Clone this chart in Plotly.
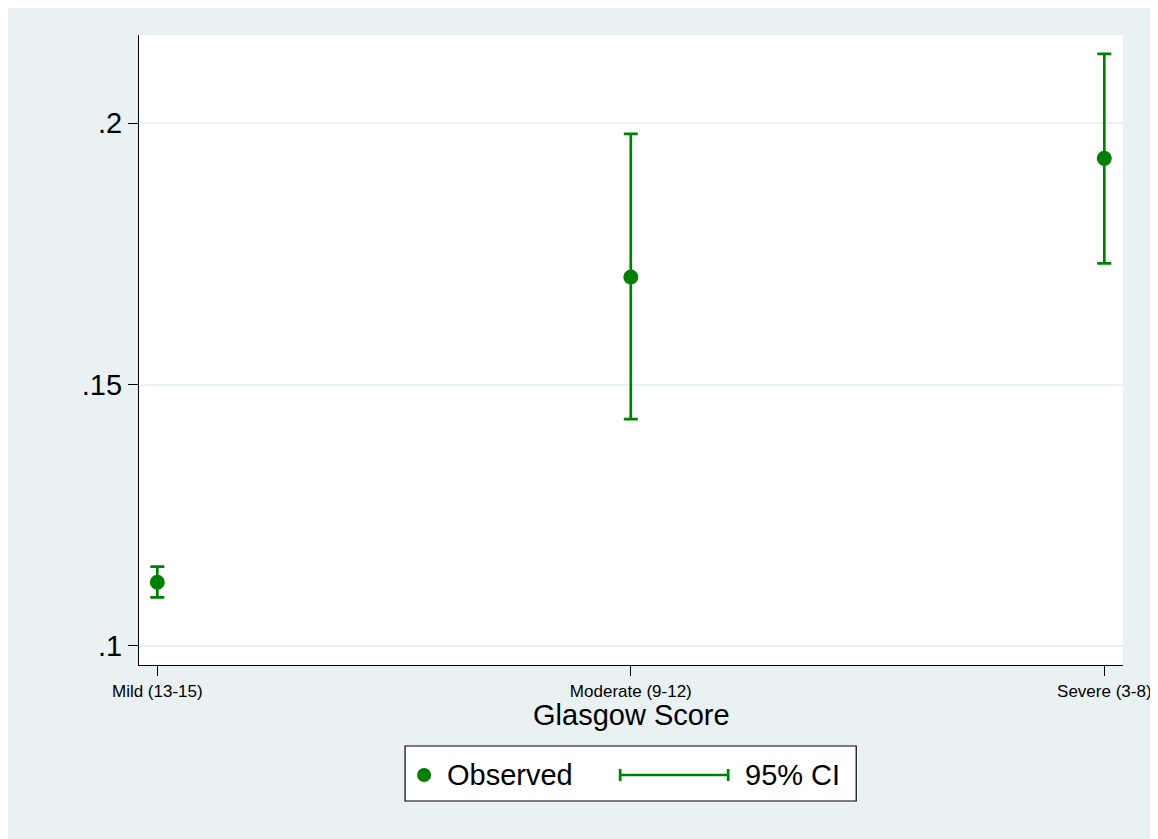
import plotly.graph_objects as go

# Glasgow score groups and observed proportions with 95% CI
categories = ["Mild (13-15)", "Moderate (9-12)", "Severe (3-8)"]
observed = [0.1122, 0.1706, 0.1933]
ci_low = [0.1093, 0.1434, 0.1732]
ci_high = [0.1152, 0.1980, 0.2133]

ytick_vals = [0.1, 0.15, 0.2]
ytick_text = [".1", ".15", ".2"]

green = "#008000"
bg = "#EAF1F3"
font = "Liberation Sans, Arial, sans-serif"

fig = go.Figure()
fig.add_trace(go.Scatter(
    x=categories, y=observed, mode="markers",
    marker=dict(color=green, size=15),
    error_y=dict(type="data", symmetric=False,
                 array=[h - o for h, o in zip(ci_high, observed)],
                 arrayminus=[o - l for o, l in zip(observed, ci_low)],
                 color=green, thickness=2.7, width=7),
    showlegend=False,
))

# page has an 8px body margin, so the figure is drawn 8px in
OFF = 8
W, H = 1158 - OFF, 839 - OFF
ml, mt = 139 - OFF, 35 - OFF
mr = W - (1122.7 - OFF)
mb = H - (665 - OFF)
pw, ph = W - ml - mr, H - mt - mb


def px_x(p):
    return (p - OFF - ml) / pw


def px_y(p):
    return (H - mb - (p - OFF)) / ph


shapes = [
    # legend box
    dict(type="rect", xref="paper", yref="paper", x0=px_x(405), x1=px_x(856), y0=px_y(746), y1=px_y(801),
         fillcolor="white", line=dict(color="black", width=1.2)),
    dict(type="circle", xref="paper", yref="paper", x0=px_x(417), x1=px_x(431), y0=px_y(768), y1=px_y(782),
         fillcolor=green, line_width=0),
    dict(type="line", xref="paper", yref="paper", x0=px_x(620), x1=px_x(728), y0=px_y(775), y1=px_y(775),
         line=dict(color=green, width=2.7)),
    dict(type="line", xref="paper", yref="paper", x0=px_x(620), x1=px_x(620), y0=px_y(769), y1=px_y(781),
         line=dict(color=green, width=2.7)),
    dict(type="line", xref="paper", yref="paper", x0=px_x(728), x1=px_x(728), y0=px_y(769), y1=px_y(781),
         line=dict(color=green, width=2.7)),
]

annotations = [
    dict(text="Glasgow Score", xref="paper", yref="paper", x=px_x(631), y=px_y(715),
         showarrow=False, font=dict(size=29, color="black", family=font), xanchor="center", yanchor="middle"),
    dict(text="Observed", xref="paper", yref="paper", x=px_x(445), y=px_y(775),
         showarrow=False, font=dict(size=29, color="black", family=font), xanchor="left", yanchor="middle"),
    dict(text="95% CI", xref="paper", yref="paper", x=px_x(743), y=px_y(775),
         showarrow=False, font=dict(size=29, color="black", family=font), xanchor="left", yanchor="middle"),
]

fig.update_layout(
    width=W, height=H,
    margin=dict(l=ml, r=mr, t=mt, b=mb),
    paper_bgcolor=bg, plot_bgcolor="white",
    font=dict(family=font, color="black"),
    shapes=shapes, annotations=annotations,
    showlegend=False,
)
fig.update_xaxes(
    type="category", range=[-0.0387, 2.0395], automargin=False,
    showline=True, linecolor="black", linewidth=1.2, mirror=False,
    ticks="outside", ticklen=10, tickcolor="black", tickwidth=1.2,
    tickfont=dict(size=17), showgrid=False, zeroline=False,
)
fig.update_yaxes(
    range=[0.09636, 0.2169], automargin=False,
    tickvals=ytick_vals, ticktext=ytick_text,
    showline=True, linecolor="black", linewidth=1.2,
    ticks="outside", ticklen=10, tickcolor="black", tickwidth=1.2,
    tickfont=dict(size=29), showgrid=True, gridcolor=bg, gridwidth=2, zeroline=False,
)

fig.write_html("out.html")
